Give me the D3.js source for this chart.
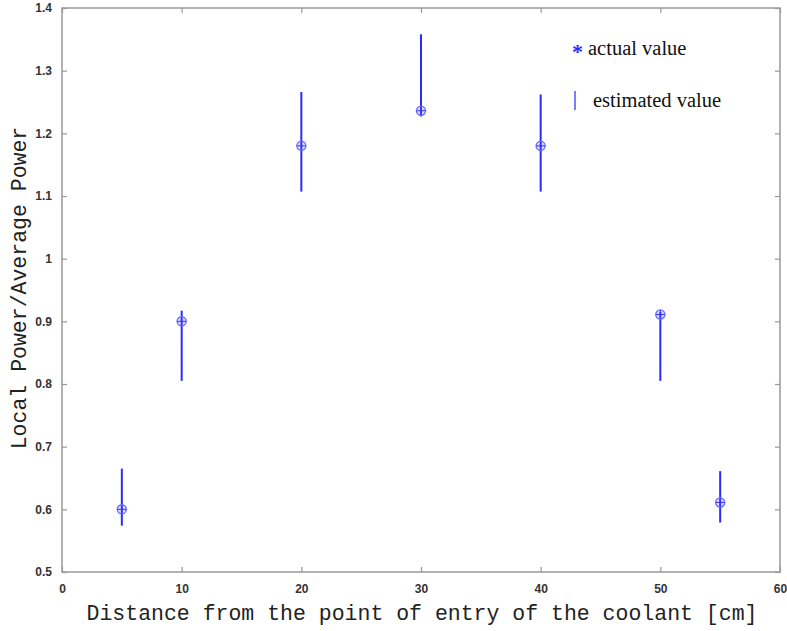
<!DOCTYPE html>
<html>
<head>
<meta charset="utf-8">
<script src="https://cdn.jsdelivr.net/npm/d3@7"></script>
<style>
  html, body { margin: 0; padding: 0; background: #fff; }
  svg { display: block; }
</style>
</head>
<body>
<svg id="chart" width="787" height="631"></svg>
<script>
// Distance along the channel (cm)
const distance = [5, 10, 20, 30, 40, 50, 55];
// Measured local/average power ratio
const actualValue = [0.60, 0.90, 1.18, 1.236, 1.18, 0.911, 0.611];
// Estimated range (low / high) for each position
const estimatedLow = [0.574, 0.805, 1.107, 1.227, 1.107, 0.805, 0.579];
const estimatedHigh = [0.665, 0.917, 1.266, 1.358, 1.262, 0.915, 0.661];

const xTicks = [0, 10, 20, 30, 40, 50, 60];
const yTicks = [0.5, 0.6, 0.7, 0.8, 0.9, 1.0, 1.1, 1.2, 1.3, 1.4];

const svg = d3.select("#chart");
const plotLeft = 62, plotRight = 780, plotTop = 8, plotBottom = 572;

const x = d3.scaleLinear().domain([0, 60]).range([plotLeft, plotRight]);
const y = d3.scaleLinear().domain([0.5, 1.4]).range([plotBottom, plotTop]);

const axisColor = "#999";
const tickFont = "bold 12px 'Liberation Sans', Arial, sans-serif";
const titleFont = "21.5px 'Liberation Mono', 'Courier New', monospace";
const legendFont = "20.5px 'Liberation Serif', 'Times New Roman', serif";

// Frame box
svg.append("rect")
  .attr("x", plotLeft).attr("y", plotTop)
  .attr("width", plotRight - plotLeft).attr("height", plotBottom - plotTop)
  .attr("fill", "none").attr("stroke", axisColor).attr("stroke-width", 1.5);

// Inward ticks on all four sides
function styleAxis(g) {
  g.select(".domain").remove();
  g.selectAll(".tick line").attr("stroke", axisColor).attr("stroke-width", 1.2);
  g.selectAll(".tick text").attr("fill", "#333").style("font", tickFont);
}

const fmtY = d => String(+d.toFixed(1));

svg.append("g").attr("transform", `translate(0,${plotBottom})`)
  .call(d3.axisBottom(x).tickValues(xTicks).tickSizeInner(-5).tickSizeOuter(0).tickPadding(12))
  .call(styleAxis);
svg.append("g").attr("transform", `translate(0,${plotTop})`)
  .call(d3.axisTop(x).tickValues(xTicks).tickSizeInner(-5).tickSizeOuter(0).tickFormat(""))
  .call(styleAxis);
svg.append("g").attr("transform", `translate(${plotLeft},0)`)
  .call(d3.axisLeft(y).tickValues(yTicks).tickSizeInner(-5).tickSizeOuter(0).tickPadding(10).tickFormat(fmtY))
  .call(styleAxis);
svg.append("g").attr("transform", `translate(${plotRight},0)`)
  .call(d3.axisRight(y).tickValues(yTicks).tickSizeInner(-5).tickSizeOuter(0).tickFormat(""))
  .call(styleAxis);

// Axis titles
svg.append("text")
  .attr("x", (plotLeft + plotRight) / 2 + 1).attr("y", 620)
  .attr("text-anchor", "middle")
  .style("font", titleFont)
  .attr("fill", "#222")
  .text("Distance from the point of entry of the coolant [cm]");

svg.append("text")
  .attr("transform", `translate(26,${(plotTop + plotBottom) / 2 - 2}) rotate(-90)`)
  .attr("text-anchor", "middle")
  .style("font", titleFont)
  .attr("fill", "#222")
  .text("Local Power/Average Power");

const rows = distance.map((d, i) => ({
  d, v: actualValue[i], lo: estimatedLow[i], hi: estimatedHigh[i]
}));

// Estimated ranges
svg.append("g").selectAll("line").data(rows).join("line")
  .attr("x1", r => x(r.d)).attr("x2", r => x(r.d))
  .attr("y1", r => y(r.lo)).attr("y2", r => y(r.hi))
  .attr("stroke", "#2b2bff").attr("stroke-width", 2);

// Actual values: circle with cross
const marks = svg.append("g").selectAll("g").data(rows).join("g")
  .attr("transform", r => `translate(${x(r.d)},${y(r.v)})`);
marks.append("circle").attr("r", 4.6)
  .attr("fill", "rgba(120,120,255,0.25)")
  .attr("stroke", "#7070ff").attr("stroke-width", 1.3);
marks.append("path").attr("d", "M-4.5,0H4.5M0,-4.5V4.5")
  .attr("stroke", "#3030ff").attr("stroke-width", 1);

// Legend
svg.append("text").attr("x", 572).attr("y", 59)
  .style("font", "bold 22px 'Liberation Serif', 'Times New Roman', serif")
  .attr("fill", "#2b2bff").text("*");
svg.append("text").attr("x", 588).attr("y", 55)
  .style("font", legendFont)
  .attr("fill", "#111").text("actual value");
svg.append("line")
  .attr("x1", 575).attr("x2", 575).attr("y1", 91).attr("y2", 110)
  .attr("stroke", "#5050ff").attr("stroke-width", 1.5);
svg.append("text").attr("x", 593).attr("y", 107)
  .style("font", legendFont)
  .attr("fill", "#111").text("estimated value");
</script>
</body>
</html>
